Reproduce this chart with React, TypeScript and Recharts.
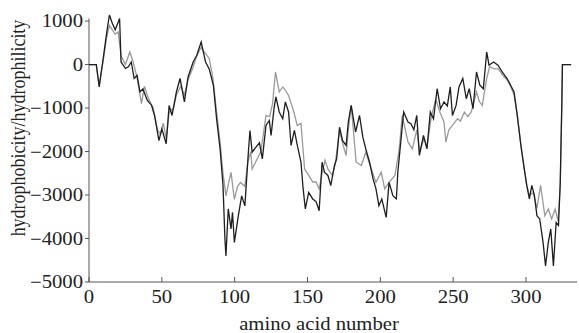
import React from 'react';
import {
  LineChart,
  Line,
  XAxis,
  YAxis,
  ReferenceLine,
} from 'recharts';

// residue positions and values
const blackResidue = [
  0, 5, 7, 10, 12, 14, 16, 18, 21, 22, 25, 27, 29, 31, 33, 35, 37, 40, 43, 45,
  48, 50, 53, 55, 57, 60, 62.5, 65.5, 68, 71.5, 74, 77, 80, 82.5, 85.4, 87.6,
  90, 92, 93.3, 94, 95.6, 97.5, 98.5, 99.8, 102.5, 104.8, 107, 109.4, 110.5,
  112, 114.6, 117, 119, 121.5, 123.8, 125, 127, 128.3, 130.6, 133, 134.8, 137,
  138.7, 141, 143, 145.5, 147, 148.5, 150.8, 153.6, 155.9, 158, 160, 161.6,
  164, 166, 168.5, 170, 172, 174, 176.5, 178, 180, 183, 185.7, 188, 190, 192.6,
  195, 197, 199, 201, 204, 206, 208.6, 211, 212, 214, 216, 219, 221, 223, 225,
  226.8, 229.6, 232, 234.3, 236.5, 239, 241.3, 243.7, 246, 248, 249.5, 252,
  254, 256.6, 259, 261, 263.6, 266, 268.3, 270.7, 273, 274.6, 277.7, 280.8,
  283.6, 287, 289.4, 291.8, 294, 296.5, 298.8, 300.5, 302.3, 304, 305.7, 307.5,
  309.4, 311.7, 313.4, 315.3, 317, 318.8, 320.7, 322.3, 323.5, 324.6, 325, 331,
];
const blackValue = [
  0, 0, -515, 200, 700, 1140, 950, 800, 1060, 60, -90, -50, 60, -320, -250,
  -630, -560, -820, -940, -1170, -1750, -1480, -1820, -940, -1170, -630, -320,
  -860, -285, 60, 215, 520, 60, -100, -480, -1250, -1940, -2780, -4000, -4400,
  -3320, -3780, -3400, -4090, -3480, -3020, -3250, -2015, -1515, -2015, -1900,
  -1800, -2170, -1400, -1285, -1630, -1015, -745, -1090, -1245, -860, -1090,
  -1860, -1515, -1860, -2245, -2860, -3320, -2940, -3090, -3150, -3360, -2245,
  -2475, -2550, -2780, -2320, -2170, -1440, -1745, -1860, -1320, -940, -1550,
  -1170, -1670, -1940, -2245, -2630, -2860, -3245, -3090, -3515, -2710, -3015,
  -3090, -2475, -1785, -1090, -1320, -1360, -1500, -1170, -2090, -1630, -1940,
  -1090, -1250, -555, -1015, -860, -950, -515, -1170, -940, -515, -320, -785,
  -555, -1015, -170, -475, -555, 290, -15, 60, -15, -170, -320, -475, -630,
  -1170, -1860, -2400, -2780, -3090, -2780, -3000, -3475, -3550, -4090, -4630,
  -4090, -3780, -4630, -3630, -3700, -2710, -860, 0, 0,
];

// residue positions and values
const greyResidue = [
  0, 5, 7, 10, 12, 14, 16, 18, 20, 22, 25, 28, 30, 33, 36, 38, 41, 44, 47, 49,
  51, 53, 55, 58, 60, 63, 65.5, 68, 71, 74, 77, 79, 82.5, 85, 87.6, 90, 92, 94,
  96, 97.5, 99.8, 102, 104, 107, 109, 111, 112, 115, 118, 121.5, 124, 126, 128,
  130.6, 133, 135, 137, 140, 143, 145.5, 148, 150.8, 153.6, 155.9, 158, 160,
  162, 164, 167, 169, 172, 174, 176.5, 178, 180, 183.4, 187, 190, 193, 197,
  200.6, 203, 206, 210, 213, 215, 219, 222, 225, 227, 230, 232, 235, 238, 241,
  243.7, 245, 247, 249.5, 253, 255, 257.7, 260, 262.4, 266, 268, 270, 273, 275,
  278, 281, 284, 287, 289.4, 291.8, 294, 296.5, 298.8, 300.5, 302.3, 305, 307.5,
  310, 312.9, 315.3, 317.6, 320, 322, 323.5, 324.6, 325, 331,
];
const greyValue = [
  0, 0, -480, 150, 600, 900, 800, 700, 750, 200, 0, 290, 100, -300, -900, -500,
  -800, -1000, -1500, -1600, -1350, -1700, -1100, -1000, -700, -500, -700,
  -350, -100, 200, 400, 300, 140, -300, -1100, -1800, -2500, -3020, -2700,
  -2480, -3100, -2800, -2710, -2800, -2250, -2000, -2400, -2200, -2000, -1170,
  -1200, -900, -170, -630, -515, -600, -710, -1015, -1400, -1350, -2400, -2550,
  -2700, -2700, -2860, -2500, -2200, -2400, -2550, -2300, -1500, -1800, -2090,
  -1500, -940, -2245, -2320, -2015, -2320, -2710, -2475, -2860, -2710, -2550,
  -1940, -1170, -1785, -1940, -1500, -2000, -1700, -1900, -1200, -800, -1100,
  -1320, -1785, -1500, -1400, -1245, -1300, -1090, -1200, -1090, -630, -850,
  -940, -320, -50, -100, -100, -250, -350, -500, -700, -1170, -1860, -2400,
  -2780, -3000, -2950, -3300, -2780, -3475, -3320, -3550, -3320, -3600, -2800,
  -900, 0, 0,
];

const xTicks = [0, 50, 100, 150, 200, 250, 300];
const yTicks = [-5000, -4000, -3000, -2000, -1000, 0, 1000];

const blackData = blackResidue.map((r, i) => ({ residue: r, value: blackValue[i] }));
const greyData = greyResidue.map((r, i) => ({ residue: r, value: greyValue[i] }));

const FONT = '"Liberation Serif", "Times New Roman", serif';
const AXIS = '#555';
const STRETCH = 1.15;

const fmt = (v: number) => (v < 0 ? '\u2212' + Math.abs(v) : String(v));

const XTick = (props: any) => {
  const { x, y, payload } = props;
  return (
    <g>
      <line x1={x} y1={y} x2={x} y2={y - 5} stroke={AXIS} strokeWidth={1} />
      <text
        transform={`translate(${x},${y + 21}) scale(${STRETCH},1)`}
        textAnchor="middle"
        fontFamily={FONT}
        fontSize={18}
        fill="#222"
      >
        {payload.value}
      </text>
    </g>
  );
};

const YTick = (props: any) => {
  const { x, y, payload } = props;
  return (
    <text
      transform={`translate(${x},${y + 6}) scale(${STRETCH},1)`}
      textAnchor="end"
      fontFamily={FONT}
      fontSize={18}
      fill="#222"
    >
      {fmt(payload.value)}
    </text>
  );
};

export default function App() {
  return (
    <div style={{ position: 'absolute', left: 0, top: 0, background: '#fff' }}>
      <LineChart
        width={579}
        height={333}
        margin={{ top: 15, right: 2, bottom: 0, left: 0 }}
      >
        <XAxis
          dataKey="residue"
          type="number"
          domain={[0, 335]}
          ticks={xTicks}
          allowDuplicatedCategory={false}
          height={51}
          tickLine={false}
          tickSize={0}
          tickMargin={0}
          stroke={AXIS}
          tick={<XTick />}
          label={{
            content: () => (
              <text
                transform={`translate(319,330) scale(${STRETCH},1)`}
                textAnchor="middle"
                fontFamily={FONT}
                fontSize={18}
                fill="#222"
              >
                amino acid number
              </text>
            ),
          }}
        />
        <YAxis
          dataKey="value"
          type="number"
          domain={[-5000, 1140]}
          ticks={yTicks}
          width={89}
          axisLine={false}
          tickSize={4}
          tickMargin={2}
          tickLine={{ stroke: AXIS }}
          tick={<YTick />}
          label={{
            content: () => (
              <text
                transform={`translate(25,128) scale(${STRETCH},1) rotate(-90)`}
                textAnchor="middle"
                fontFamily={FONT}
                fontSize={18}
                fill="#222"
              >
                hydrophobicity/hydrophilicity
              </text>
            ),
          }}
        />
        <ReferenceLine
          segment={[
            { x: 0, y: -5000 },
            { x: 0, y: 1060 },
          ]}
          stroke={AXIS}
          strokeWidth={1}
        />
        <Line
          data={greyData}
          dataKey="value"
          type="linear"
          stroke="#9a9a9a"
          strokeWidth={1.3}
          dot={false}
          isAnimationActive={false}
        />
        <Line
          data={blackData}
          dataKey="value"
          type="linear"
          stroke="#1e1e1e"
          strokeWidth={1.3}
          dot={false}
          isAnimationActive={false}
        />
      </LineChart>
    </div>
  );
}
